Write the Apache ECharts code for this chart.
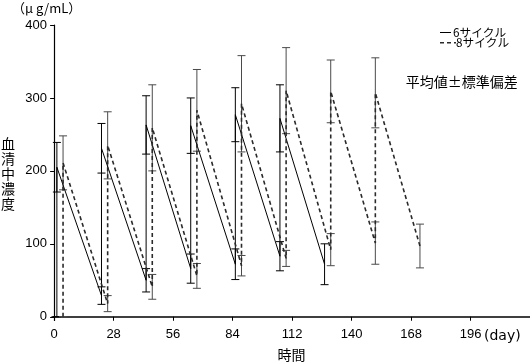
<!DOCTYPE html>
<html>
<head>
<meta charset="utf-8">
<script src="https://cdn.jsdelivr.net/npm/echarts@6/dist/echarts.min.js"></script>
<style>
html,body{margin:0;padding:0;background:#fff;}
#c{width:530px;height:364px;}
</style>
</head>
<body>
<div id="c"></div>
<script>
// ---- data ----
const xTicks = [0, 28, 56, 84, 112, 140, 168, 196];
const yTicks = [0, 100, 200, 300, 400];

const sixLabel = '6サイクル';
const sixTime = [1.3, 1.3, 22.3, 22.3, 43.3, 43.3, 64.3, 64.3, 85.3, 85.3, 106.3, 106.3, 127.3];
const sixMean = [0, 205, 29, 231, 50, 263, 66, 262, 72, 277, 83, 272, 72];
const sixSD   = [0, 34, 12, 34, 16, 40, 20, 38, 21, 37, 20, 46, 28];

const eightLabel = '8サイクル';
const eightTime = [4.2, 4.2, 25.2, 25.2, 46.2, 46.2, 67.2, 67.2, 88.2, 88.2, 109.2, 109.2, 130.2, 130.2, 151.2, 151.2, 172.2];
const eightMean = [0, 211, 18, 235, 41, 259, 56, 283, 70, 292, 80, 310, 92, 309, 101, 307, 97];
const eightSD   = [0, 37, 11, 46, 17, 59, 17, 56, 14, 66, 11, 59, 22, 43, 29, 48, 30];

// ---- build ----
const zip2 = (a, b) => a.map((v, i) => [v, b[i]]);
const zip3 = (a, b, c) => a.map((v, i) => [v, b[i], c[i]]);

function errRender(color) {
  return function (params, api) {
    const x = api.value(0), m = api.value(1), s = api.value(2);
    const hi = api.coord([x, m + s]);
    const lo = api.coord([x, m - s]);
    const w = 4;
    const st = { stroke: color, lineWidth: 1 };
    return {
      type: 'group',
      children: [
        { type: 'line', shape: { x1: hi[0], y1: hi[1], x2: lo[0], y2: lo[1] }, style: st },
        { type: 'line', shape: { x1: hi[0] - w, y1: hi[1], x2: hi[0] + w, y2: hi[1] }, style: st },
        { type: 'line', shape: { x1: lo[0] - w, y1: lo[1], x2: lo[0] + w, y2: lo[1] }, style: st }
      ]
    };
  };
}

const numFont = 'Liberation Sans';
const jpFont = 'Noto Sans CJK JP';

const chart = echarts.init(document.getElementById('c'), null, { renderer: 'canvas' });
chart.setOption({
  animation: false,
  backgroundColor: '#fff',
  grid: { left: 52, right: 0, top: 25, bottom: 43.6, containLabel: false },
  xAxis: {
    type: 'value', min: -1, max: 224,
    axisLine: { show: true, lineStyle: { color: '#000', width: 1.5 } },
    axisTick: { show: true, length: 4, lineStyle: { color: '#000' }, customValues: xTicks },
    axisLabel: { color: '#000', fontSize: 13, fontFamily: numFont, margin: 8, customValues: xTicks },
    splitLine: { show: false }
  },
  yAxis: {
    type: 'value', min: -5, max: 400,
    axisLine: { show: true, lineStyle: { color: '#000', width: 1.2 } },
    axisTick: { show: true, length: 4, lineStyle: { color: '#000' }, customValues: yTicks },
    axisLabel: { color: '#000', fontSize: 13, fontFamily: numFont, margin: 5, customValues: yTicks },
    splitLine: { show: false }
  },
  series: [
    {
      name: sixLabel + ' SD', type: 'custom', renderItem: errRender('#000'),
      data: zip3(sixTime, sixMean, sixSD), encode: { x: 0, y: 1 }, z: 2
    },
    {
      name: eightLabel + ' SD', type: 'custom', renderItem: errRender('#4a4a4a'),
      data: zip3(eightTime, eightMean, eightSD), encode: { x: 0, y: 1 }, z: 2
    },
    {
      name: sixLabel, type: 'line', data: zip2(sixTime, sixMean), symbol: 'none',
      lineStyle: { color: '#000', width: 1 }, z: 3
    },
    {
      name: eightLabel, type: 'line', data: zip2(eightTime, eightMean), symbol: 'none',
      lineStyle: { color: '#2a2a2a', width: 1.6, type: [4, 3] }, z: 3
    }
  ],
  graphic: [
    { type: 'text', x: 12, y: 8, style: { text: '（μ g/mL）', font: '13px "' + jpFont + '"', fill: '#000', textAlign: 'left', textVerticalAlign: 'middle' } },
    { type: 'text', x: 8, y: 173.4, style: { text: '血\n清\n中\n濃\n度', font: '14px "' + jpFont + '"', lineHeight: 15, fill: '#000', textAlign: 'center', textVerticalAlign: 'middle' } },
    { type: 'text', x: 291.5, y: 355, style: { text: '時間', font: '14px "' + jpFont + '"', fill: '#000', textAlign: 'center', textVerticalAlign: 'middle' } },
    { type: 'text', x: 484, y: 336, style: { text: '(day)', font: '14px "DejaVu Sans"', fill: '#000', textAlign: 'left', textVerticalAlign: 'middle' } },
    { type: 'line', shape: { x1: 440, y1: 32.5, x2: 451, y2: 32.5 }, style: { stroke: '#000', lineWidth: 1 } },
    { type: 'text', x: 453, y: 32.5, style: { text: sixLabel, font: '11.7px "' + jpFont + '"', fill: '#000', textAlign: 'left', textVerticalAlign: 'middle' } },
    { type: 'line', shape: { x1: 440, y1: 42.7, x2: 456, y2: 42.7 }, style: { stroke: '#2a2a2a', lineWidth: 1.6, lineDash: [4, 3] } },
    { type: 'text', x: 456, y: 42.7, style: { text: eightLabel, font: '11.7px "' + jpFont + '"', fill: '#000', textAlign: 'left', textVerticalAlign: 'middle' } },
    { type: 'text', x: 461.7, y: 81.7, style: { text: '平均値±標準偏差', font: '14px "' + jpFont + '"', fill: '#000', textAlign: 'center', textVerticalAlign: 'middle' } }
  ]
});
</script>
</body>
</html>
